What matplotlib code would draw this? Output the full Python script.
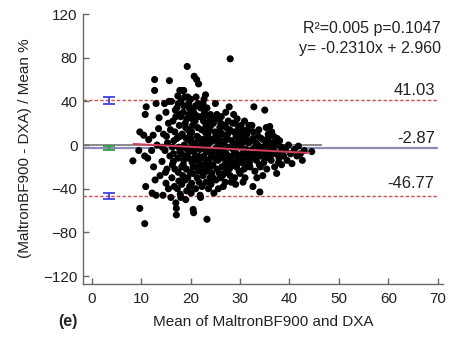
import numpy as np
import matplotlib.pyplot as plt

plt.rcParams['font.family'] = ['Liberation Sans', 'DejaVu Sans']

# (mean of the two methods, percent difference)
pts = [
    (8.3, -14.5), (9.7, 12), (9.7, -58), (9.5, -5),
    (10.5, 9), (10.7, -10), (10.7, -72), (10.9, -38), (10.8, 28), (11.0, 35), (11.3, -12), (11.5, 5),
    (12.1, -5), (12.4, 9), (12.7, 60), (12.7, 50), (13.0, 38), (12.2, -44), (13.0, -46), (12.5, -20),
    (13.2, 0), (13.5, 15), (13.8, -28), (13.6, 25), (12.8, -32),
    (14.4, -46), (14.2, -15), (14.5, 10), (14.8, -5), (15.0, 30), (15.2, -22), (15.5, 20), (15.7, 59),
    (15.0, -35), (14.7, 38), (15.3, 2), (15.8, -10), (15.5, -40), (14.9, -25), (15.9, 14), (15.6, 40),
    (14.3, -2), (15.1, 8),
    (16.0, -48), (16.2, -30), (16.3, -18), (16.5, -8), (16.6, 4), (16.8, 12), (16.4, 22), (16.9, 32),
    (16.1, 40), (17.0, -53), (17.1, -58), (17.1, -64), (17.3, -40), (17.5, -25), (17.4, -12), (17.6, -2),
    (17.2, 6), (17.7, 18), (17.8, 28), (17.5, 38), (17.8, 50), (16.7, -38), (17.9, -45), (16.3, -2),
    (17.0, 26), (16.8, -22), (17.4, 45), (16.5, -15), (17.9, 8), (17.6, -33),
    (18.0, -48), (18.3, 50), (18.6, 50), (18.2, -36), (18.4, -28), (18.5, -18), (18.1, -8), (18.7, 0),
    (18.3, 10), (18.9, 20), (18.5, 30), (18.0, 40), (19.3, 72), (19.0, -50), (19.2, -42), (19.4, -30),
    (19.1, -22), (19.6, -12), (19.3, -4), (19.8, 4), (19.5, 14), (19.2, 24), (19.7, 34), (19.4, 44),
    (18.8, -10), (19.9, -25), (18.6, 36), (19.0, 16), (19.8, -38), (18.2, -20), (19.6, 28), (18.9, -32),
    (19.1, 6), (18.4, -2), (19.9, 10),
    (20.1, -44), (20.5, -59), (20.6, -62), (20.7, 63), (21.2, 60), (21.6, 56), (20.2, -35), (20.4, -26),
    (20.3, -16), (20.6, -6), (20.8, 2), (20.2, 12), (20.9, 22), (20.5, 32), (20.0, 42), (21.0, -40),
    (21.3, -30), (21.1, -20), (21.5, -10), (21.2, -2), (21.7, 6), (21.4, 16), (21.8, 26), (21.0, 36),
    (21.9, -46), (21.6, -24), (20.7, -12), (21.3, 8), (20.4, 18), (21.9, -4), (20.9, 28), (21.7, -34),
    (20.1, -2), (21.5, 38),
    (22.0, -48), (22.3, -38), (22.5, -28), (22.1, -18), (22.7, -10), (22.4, -2), (22.9, 6), (22.2, 14),
    (22.6, 22), (22.8, 30), (22.5, 38), (23.0, 46), (23.3, -68), (23.1, -34), (23.4, -24), (23.6, -14),
    (23.2, -6), (23.8, 2), (23.5, 10), (23.1, 18), (23.7, 26), (23.3, 34), (23.9, -30), (22.9, -20),
    (23.6, -40), (22.2, -12), (23.0, 0), (23.8, 14), (22.7, 42), (23.4, -2), (22.4, 26), (23.9, 22),
    (22.6, 4),
    (24.7, -44), (24.1, -36), (24.3, -26), (24.5, -18), (24.2, -10), (24.8, -4), (24.4, 4), (24.9, 12),
    (24.6, 20), (24.0, 28), (25.1, -32), (25.3, -22), (25.5, -14), (25.2, -6), (25.7, 0), (25.4, 8),
    (25.9, 16), (25.6, 24), (25.0, 38), (25.8, -26), (24.5, -30), (25.9, -10), (24.1, 18), (25.3, 28),
    (24.7, 6), (25.6, -40), (24.9, -12), (25.2, 4),
    (26.0, -30), (26.3, -20), (26.5, -12), (26.1, -6), (26.7, 2), (26.4, 10), (26.9, 18), (26.2, 26),
    (27.0, -34), (27.3, -24), (27.5, -16), (27.2, -8), (27.7, -2), (27.4, 6), (27.9, 14), (27.6, 22),
    (27.8, 35), (28.0, 79), (26.8, -26), (27.1, 30), (26.6, -38), (27.9, -12), (26.3, 4), (27.5, 10),
    (28.0, -28), (26.9, -18), (27.2, 16), (26.1, 20),
    (28.1, -20), (28.4, -10), (28.6, -4), (28.3, 4), (28.8, 12), (28.5, 20), (28.9, -30), (29.0, -16),
    (29.3, -8), (29.5, 0), (29.2, 8), (29.7, 16), (29.4, 24), (29.8, -24), (28.7, 28), (29.1, -36),
    (29.6, -12), (28.2, -34), (29.9, 4), (28.9, -6), (29.4, 12),
    (30.0, -26), (30.3, -16), (30.5, -8), (30.2, -2), (30.7, 6), (30.4, 14), (30.9, 22), (31.0, -30),
    (31.3, -20), (31.5, -12), (31.2, -4), (31.7, 2), (31.4, 10), (31.9, -16), (30.6, -34), (31.8, 18),
    (30.8, -22), (31.1, 6), (30.1, 10), (31.6, -8),
    (32.0, -20), (32.3, -10), (32.5, -4), (32.2, 4), (32.7, 12), (32.8, 35), (32.6, -38), (33.0, -24),
    (33.3, -14), (33.5, -6), (33.2, 2), (33.7, 8), (33.9, -18), (32.4, 18), (33.4, -30), (33.8, 14),
    (32.9, -12), (33.1, -2),
    (34.0, -43), (34.2, -10), (34.5, -2), (34.3, 6), (34.8, -16), (35.0, 32), (35.2, -8), (35.5, 0),
    (35.7, 10), (35.4, -22), (34.6, -28), (35.9, -12), (34.9, 4), (35.3, 16), (34.1, -20), (35.8, -4),
    (36.0, 17), (36.2, -6), (36.5, 2), (36.3, -14), (36.8, 8), (37.0, -20), (37.4, -26), (37.2, -8),
    (37.6, 0), (37.9, -12), (36.7, -2), (37.5, 6), (36.4, 12), (37.8, -16),
    (38.2, -6), (38.5, -2), (38.0, 4), (38.8, -10), (39.2, -4), (39.5, -14), (38.4, -18), (39.8, 0),
    (40.5, -17), (41.0, -4), (41.8, -1), (42.2, -8), (42.6, -14), (44.5, -6), (40.2, -8), (41.5, -10),
    (43.0, -5),
    # extra points in the dense core
    (17.2, 34), (18.0, 26), (18.8, 44), (19.6, 38), (20.3, 24), (21.1, 44), (22.0, 34), (22.9, 12),
    (23.6, 6), (24.3, -6), (24.8, 24), (25.4, -2), (26.0, 12), (26.6, -4), (27.0, 4), (27.6, -10),
    (28.2, -14), (28.8, 2), (29.3, -20), (29.9, -10), (30.4, 2), (30.9, -14), (31.5, 14), (32.0, -6),
    (32.6, 6), (33.1, -8), (33.6, 0), (34.4, -6), (35.0, -12), (35.6, 6), (36.1, -10), (36.9, -6),
    (37.3, 2), (38.6, -8), (26.4, -28), (27.8, -22), (29.0, 20), (30.2, 18), (24.0, -20), (23.2, -16),
    (22.3, -24), (21.4, -14), (20.5, -20), (19.7, -6), (18.6, -14), (17.8, -6), (20.0, 6), (22.0, 0),
]
mean_vals = [p[0] for p in pts]
diff_pct = [p[1] for p in pts]

bias = -2.87
upper_loa = 41.03
lower_loa = -46.77
bias_ci = (-4.8, -0.9)
upper_ci = (38.0, 44.1)
lower_ci = (-49.8, -43.7)
slope = -0.2310
intercept = 2.960

fig = plt.figure(figsize=(4.5, 3.39), dpi=100)
ax = fig.add_axes([0.1844, 0.1622, 0.7992, 0.8028])

ax.hlines(0, -1.8, 46.5, color='#8a8a8a', lw=1.4, zorder=1)
ax.hlines(bias, -1.8, 70, color='#8c8cb8', lw=1.6, zorder=1)
ax.hlines([upper_loa, lower_loa], -1.8, 70, color='#c85050', lw=1.0,
          linestyles=(0, (2.5, 1.5)), zorder=1)

ax.scatter(mean_vals, diff_pct, s=26, color='black', edgecolors='none', zorder=3)

xr = np.array([8.5, 44.0])
ax.plot(xr, slope * xr + intercept, color='#d0405a', lw=1.4, zorder=4)

ci_x = 3.4
for ci, c in [(upper_ci, '#4040e0'), (lower_ci, '#4040e0'), (bias_ci, '#30a040')]:
    mid = (ci[0] + ci[1]) / 2
    ax.errorbar(ci_x, mid, yerr=(ci[1] - ci[0]) / 2, color=c, capsize=4,
                lw=1.3, capthick=1.3, zorder=5)

ax.text(70.6, 103, 'R²=0.005 p=0.1047', ha='right', va='baseline', fontsize=11.5, color='#222222')
ax.text(70.6, 84, 'y= -0.2310x + 2.960', ha='right', va='baseline', fontsize=11.5, color='#222222')
ax.text(69.4, upper_loa + 4.5, '41.03', ha='right', va='baseline', fontsize=12, color='#222222')
ax.text(69.4, bias + 5, '-2.87', ha='right', va='baseline', fontsize=12, color='#222222')
ax.text(69.4, lower_loa + 7, '-46.77', ha='right', va='baseline', fontsize=12, color='#222222')

ax.set_xlim(-1.8, 71)
ax.set_ylim(-127.3, 122)
ax.set_xticks(range(0, 71, 10))
ax.set_yticks(range(-120, 121, 40))
for s in ['top', 'right']:
    ax.spines[s].set_visible(False)
for s in ['left', 'bottom']:
    ax.spines[s].set_color('#6a6a6a')
    ax.spines[s].set_linewidth(1.0)
ax.spines['left'].set_bounds(-127.3, 120)
ax.tick_params(direction='in', length=4.5, width=1.0, color='#6a6a6a',
               labelsize=11, labelcolor='#222222')
ax.tick_params(axis='x', pad=6)
ax.tick_params(axis='y', pad=4)

ax.set_xlabel('Mean of MaltronBF900 and DXA', fontsize=11, color='#222222', labelpad=6)
ax.set_ylabel('(MaltronBF900 - DXA) / Mean %', fontsize=11, color='#222222', labelpad=8)
fig.text(68 / 450, 1 - 326 / 339, '(e)', fontsize=11.5, fontweight='bold', ha='center',
         va='baseline', color='#222222')

fig.savefig('out.png', dpi=100)
